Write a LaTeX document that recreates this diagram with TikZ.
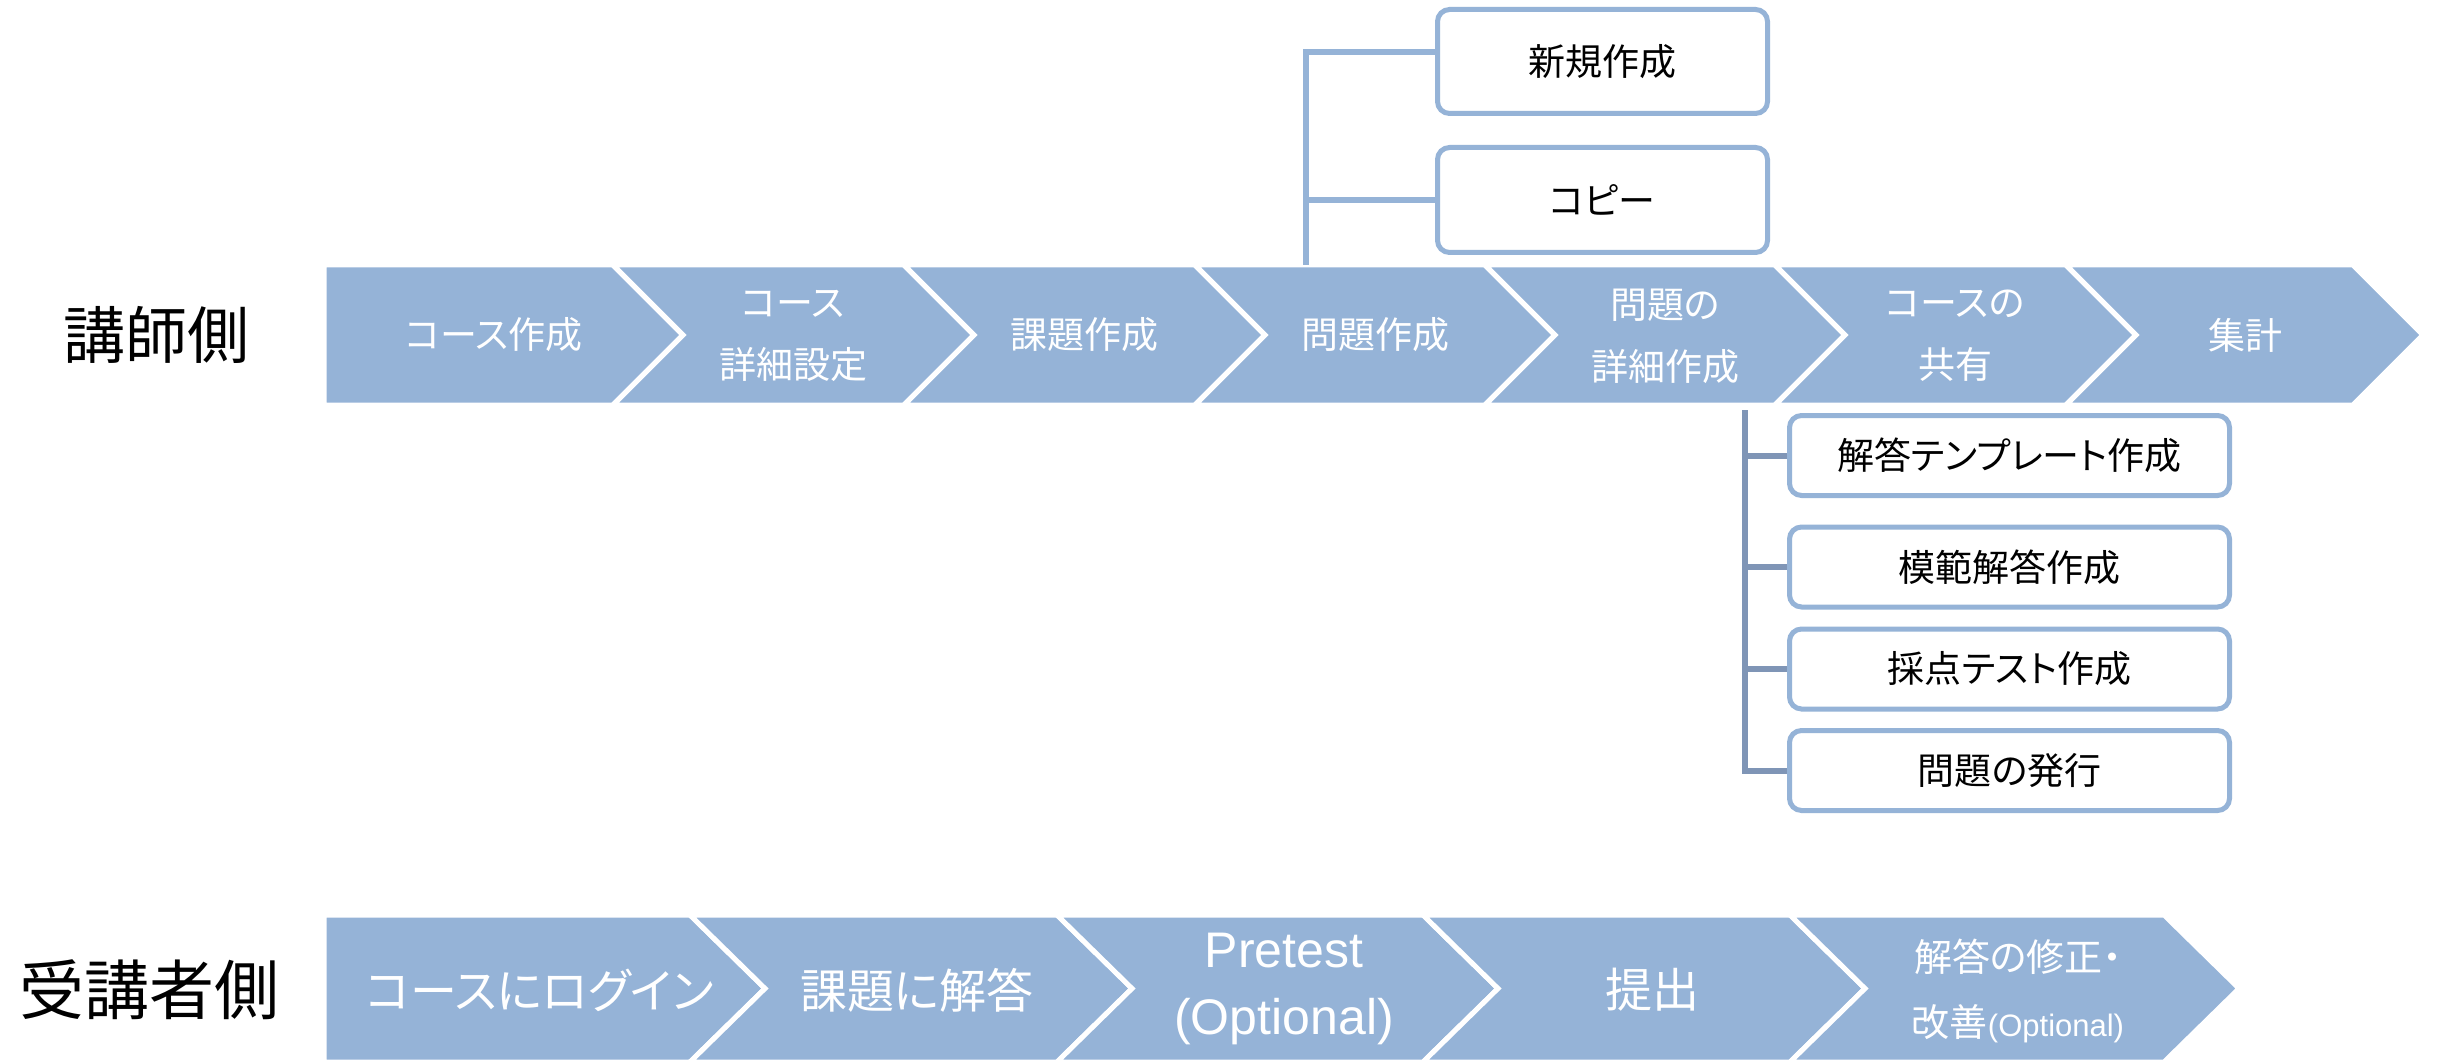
\documentclass[tikz,border=0pt]{standalone}
\usepackage{fontspec}
\setmainfont{Liberation Sans}
\newfontfamily\jp[RawFeature=+palt]{Noto Sans CJK JP}
\definecolor{chev}{HTML}{95B3D7}
\definecolor{conn}{HTML}{7F95B6}
\tikzset{
  chevshape/.style={fill=chev, draw=white, line width=5pt, line join=miter},
  wtext/.style={text=white, align=center, inner sep=0pt, font=\jp\fontsize{37}{62}\selectfont},
  btext/.style={text=white, align=center, inner sep=0pt, font=\jp\fontsize{47}{67}\selectfont},
  subbox/.style={draw=chev, line width=5pt, fill=white, rounded corners=12pt, inner sep=0pt,
     font=\jp\fontsize{37}{40}\selectfont, text=black},
  connA/.style={draw=chev, line width=6pt},
  connB/.style={draw=conn, line width=6pt},
  side/.style={text=black, inner sep=0pt, font=\jp\fontsize{62}{66}\selectfont}
}
% chevron: #1 left x, #2 right x, #3 top y, #4 bottom y, #5 depth
\newcommand\mychev[5]{%
  \path[chevshape] (#1,#3) -- (#2,#3) -- ({#2+#5},{(#3+#4)/2}) -- (#2,#4) -- (#1,#4) -- ({#1+#5},{(#3+#4)/2}) -- cycle;}
\newcommand\mychevfirst[5]{%
  \path[chevshape] (#1,#3) -- (#2,#3) -- ({#2+#5},{(#3+#4)/2}) -- (#2,#4) -- (#1,#4) -- cycle;}
\begin{document}
\begin{tikzpicture}[x=1pt,y=-1pt]
\useasboundingbox (0,0) rectangle (2440,1064);
\fill[white] (0,0) rectangle (2440,1064);

% side labels
\node[side] (lt) at (156,335) {講師側};
\node[side, font=\jp\fontsize{65}{68}\selectfont] (lb) at (149,990) {受講者側};

% top chevrons
\mychevfirst{324}{613}{265}{405}{70}
\mychev{613}{904}{265}{405}{70}
\mychev{904}{1195}{265}{405}{70}
\mychev{1195}{1485}{265}{405}{70}
\mychev{1485}{1775}{265}{405}{70}
\mychev{1775}{2066}{265}{405}{70}
\mychev{2066}{2353}{265}{405}{70}

\node[wtext] (t1) at (494,335) {コース作成};
\node[wtext] (t2) at (793,336) {コース\\詳細設定};
\node[wtext] (t3) at (1084,335) {課題作成};
\node[wtext] (t4) at (1375,335) {問題作成};
\node[wtext] (t5) at (1665,336) {問題の\\詳細作成};
\node[wtext] (t6) at (1955,336) {コースの\\共有};
\node[wtext] (t7) at (2245,335) {集計};

% bottom chevrons
\mychevfirst{324}{690}{915}{1062}{75}
\mychev{690}{1057}{915}{1062}{75}
\mychev{1057}{1423}{915}{1062}{75}
\mychev{1423}{1790}{915}{1062}{75}
\mychev{1790}{2164}{915}{1062}{75}

\node[btext] (s1) at (540,990) {コースにログイン};
\node[btext] (s2) at (917,990) {課題に解答};
\node[text=white, align=center, inner sep=0pt, font=\fontsize{50}{67}\selectfont] (s3) at (1284,989) {Pretest\\(Optional)};
\node[btext] (s4) at (1652,990) {提出};
\node[text=white, align=center, inner sep=0pt, font=\jp\fontsize{38}{65}\selectfont] (s5) at (2018,991)
  {解答の修正・\\改善{\rmfamily\fontsize{31}{65}\selectfont(Optional)}};

% upper sub boxes
\node[subbox, minimum width=330pt, minimum height=104pt] (nw) at (1602.5,61.5) {新規作成};
\node[subbox, minimum width=330pt, minimum height=105pt] (cp) at (1602.5,200) {コピー};
\coordinate (ja) at (1306,265);
\coordinate (jtop) at (1306,52);
\draw[connA] (ja) -- (jtop) -- (jtop -| nw.west);
\draw[connA] (ja |- cp.west) -- (cp.west);

% lower sub boxes
\node[subbox, minimum width=440pt, minimum height=80pt] (b1) at (2009.5,455.5) {解答テンプレート作成};
\node[subbox, minimum width=440pt, minimum height=80pt] (b2) at (2009.5,567) {模範解答作成};
\node[subbox, minimum width=440pt, minimum height=80pt] (b3) at (2009.5,669) {採点テスト作成};
\node[subbox, minimum width=440pt, minimum height=80pt] (b4) at (2009.5,770.5) {問題の発行};
\coordinate (jb) at (1745,410);
\draw[connB] (jb) -- (jb |- b4.west) -- (b4.west);
\draw[connB] (jb |- b1.west) -- (b1.west);
\draw[connB] (jb |- b2.west) -- (b2.west);
\draw[connB] (jb |- b3.west) -- (b3.west);
\end{tikzpicture}
\end{document}
